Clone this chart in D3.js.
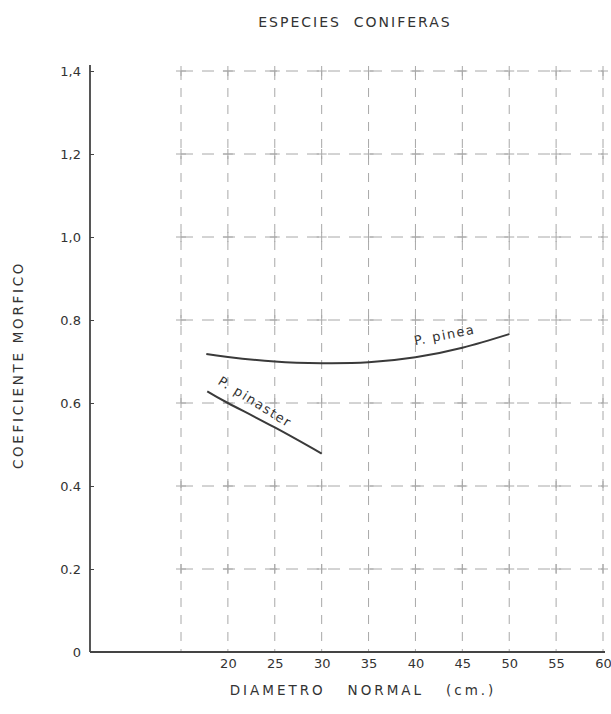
<!DOCTYPE html>
<html lang="es">
<head>
<meta charset="UTF-8">
<title>Especies coniferas</title>
<script src="https://d3js.org/d3.v7.min.js"></script>
<style>
  body { margin: 0; background: #fff; }
  text { font-family: "DejaVu Sans", sans-serif; fill: #333; }
</style>
</head>
<body>
<svg width="611" height="714"></svg>
<script>
// values
var gridX = [15, 20, 25, 30, 35, 40, 45, 50, 55, 60];
var xTicks = [20, 25, 30, 35, 40, 45, 50, 55, 60];
var yTicks = [0, 0.2, 0.4, 0.6, 0.8, 1.0, 1.2, 1.4];
var yTickLabels = ["0", "0.2", "0.4", "0.6", "0.8", "1,0", "1,2", "1,4"];

var pineaD = [17.7, 20, 25, 30, 35, 40, 45, 50];
var pineaC = [0.718, 0.711, 0.700, 0.696, 0.698, 0.710, 0.733, 0.766];
var pinasterD = [17.8, 20, 25, 30];
var pinasterC = [0.628, 0.600, 0.541, 0.478];

var svg = d3.select("svg");
var axisX0 = 90;   // y axis sits left of the broken x scale

var x = d3.scaleLinear().domain([15, 60]).range([181, 603]);
var y = d3.scaleLinear().domain([0, 1.4]).range([652, 71]);

// title
svg.append("text")
    .attr("x", 355).attr("y", 27)
    .attr("text-anchor", "middle")
    .style("font-size", "14px").style("letter-spacing", "2px")
    .style("white-space", "pre")
    .text("ESPECIES  CONIFERAS");

// grid
var grid = svg.append("g").attr("stroke", "#a8a8a8").attr("stroke-width", 1);
grid.selectAll(".vg").data(gridX).enter().append("line")
    .attr("x1", function (d) { return x(d); }).attr("x2", function (d) { return x(d); })
    .attr("y1", y(1.4)).attr("y2", y(0))
    .attr("stroke-dasharray", "9,8");
grid.selectAll(".hg").data(yTicks.slice(1)).enter().append("line")
    .attr("x1", x(15)).attr("x2", x(60))
    .attr("y1", function (d) { return y(d); }).attr("y2", function (d) { return y(d); })
    .attr("stroke-dasharray", "12,9");

// little crosses where the grid lines meet
var cross = [];
gridX.forEach(function (gx) {
    yTicks.slice(1).forEach(function (gy) { cross.push([gx, gy]); });
});
grid.selectAll(".ch").data(cross).enter().append("line")
    .attr("x1", function (d) { return x(d[0]) - 5; }).attr("x2", function (d) { return x(d[0]) + 5; })
    .attr("y1", function (d) { return y(d[1]); }).attr("y2", function (d) { return y(d[1]); });
grid.selectAll(".cv").data(cross).enter().append("line")
    .attr("x1", function (d) { return x(d[0]); }).attr("x2", function (d) { return x(d[0]); })
    .attr("y1", function (d) { return y(d[1]) - 5; }).attr("y2", function (d) { return y(d[1]) + 5; });

// axes
var yAxis = d3.axisLeft(y)
    .tickValues(yTicks)
    .tickSize(-4)
    .tickPadding(9)
    .tickFormat(function (d, i) { return yTickLabels[i]; });
var gy = svg.append("g").attr("transform", "translate(" + axisX0 + ",0)").call(yAxis);
gy.select(".domain").remove();
gy.selectAll("line").attr("stroke", "#444");
gy.selectAll("text").style("font-size", "13px").attr("fill", "#333").attr("font-family", null);

var xAxis = d3.axisBottom(x).tickValues(xTicks).tickSize(0).tickPadding(7);
var gx = svg.append("g").attr("transform", "translate(0," + y(0) + ")").call(xAxis);
gx.select(".domain").remove();
gx.selectAll("text").style("font-size", "13px").attr("fill", "#333").attr("font-family", null);

svg.append("line")
    .attr("x1", axisX0).attr("x2", axisX0)
    .attr("y1", y(1.4) - 6).attr("y2", y(0))
    .attr("stroke", "#444").attr("stroke-width", 1.8);
svg.append("line")
    .attr("x1", axisX0).attr("x2", x(60) + 2)
    .attr("y1", y(0)).attr("y2", y(0))
    .attr("stroke", "#444").attr("stroke-width", 1.8);

// axis titles
svg.append("text")
    .attr("transform", "translate(23,365) rotate(-90)")
    .attr("text-anchor", "middle")
    .style("font-size", "13.5px").style("letter-spacing", "2.7px")
    .text("COEFICIENTE MORFICO");
svg.append("text")
    .attr("x", 363).attr("y", 695)
    .attr("text-anchor", "middle")
    .style("font-size", "13.5px").style("letter-spacing", "3px")
    .style("white-space", "pre")
    .text("DIAMETRO   NORMAL   (cm.)");

// curves
var line = d3.line()
    .x(function (d) { return x(d[0]); })
    .y(function (d) { return y(d[1]); })
    .curve(d3.curveNatural);

var series = [
    { name: "P. pinea", pts: d3.zip(pineaD, pineaC), lx: 43.1, ly: 0.764, rot: -11 },
    { name: "P. pinaster", pts: d3.zip(pinasterD, pinasterC), lx: 22.9, ly: 0.603, rot: 32 }
];

svg.selectAll(".curve").data(series).enter().append("path")
    .attr("class", "curve")
    .attr("d", function (d) { return line(d.pts); })
    .attr("fill", "none")
    .attr("stroke", "#3a3a3a")
    .attr("stroke-width", 2);

svg.selectAll(".clabel").data(series).enter().append("text")
    .attr("class", "clabel")
    .attr("text-anchor", "middle")
    .attr("transform", function (d) {
        return "translate(" + x(d.lx) + "," + y(d.ly) + ") rotate(" + d.rot + ")";
    })
    .attr("dy", "0.35em")
    .style("font-size", "13px").style("letter-spacing", "1.5px")
    .text(function (d) { return d.name; });
</script>
</body>
</html>
